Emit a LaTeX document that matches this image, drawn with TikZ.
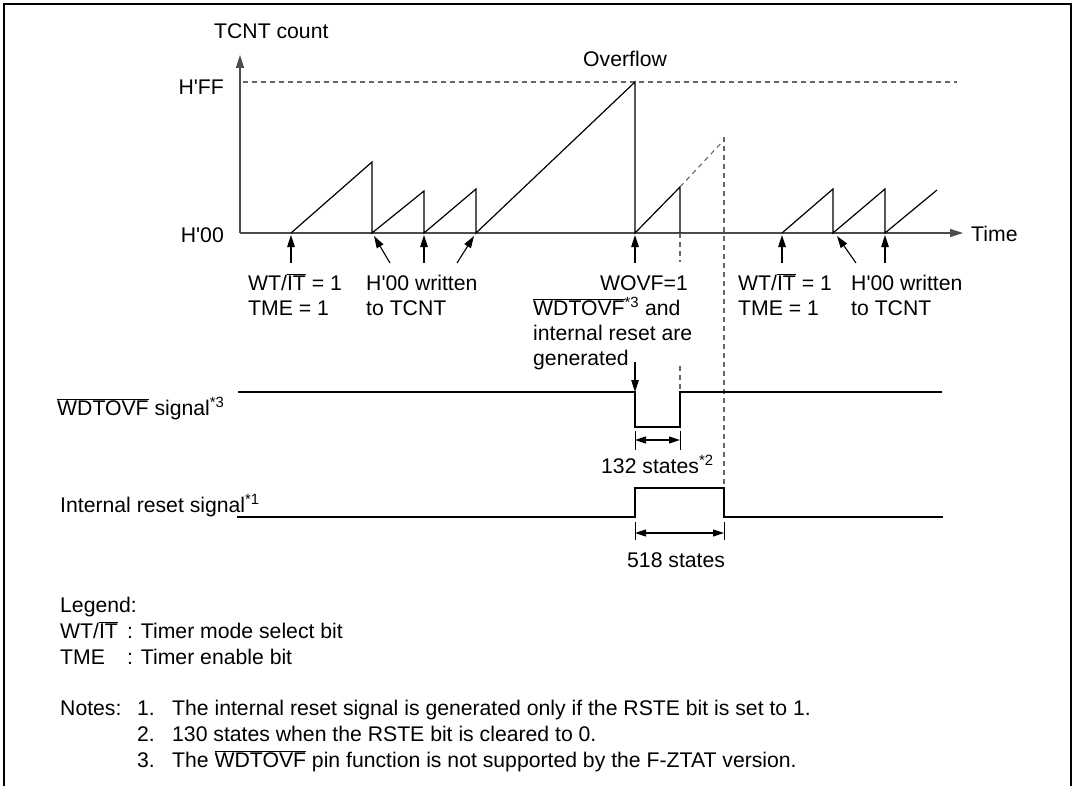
\documentclass[tikz,border=0pt]{standalone}
\usepackage{fontspec}
\newfontfamily\arialfont{Liberation Sans}
\usetikzlibrary{arrows.meta, positioning}
\newcommand{\ovl}[1]{$\overline{\hbox{#1}}$}

\begin{document}
\begin{tikzpicture}[x=1pt, y=-1pt,
  lbl/.style={inner sep=0pt, anchor=base west, font=\arialfont\fontsize{21.2}{25}\selectfont},
  wave/.style={line width=1.2pt},
  axis/.style={line width=1.4pt, draw=black!70, -{Triangle[length=13pt, width=8pt]}},
  arr/.style={line width=1.1pt, -{Triangle[length=12pt, width=7.5pt]}},
  dim/.style={line width=1.1pt, {Triangle[length=11pt, width=7pt]}-{Triangle[length=11pt, width=7pt]}},
  guide/.style={line width=1.1pt, draw=black!60, dash pattern=on 5pt off 4pt}
]
\useasboundingbox (0,0) rectangle (1075,786);
\draw[line width=2.6pt] (4,800) -- (4,4) -- (1071,4) -- (1071,800);

\coordinate (o) at (240,233);
\coordinate (ymax) at (240,55);
\coordinate (tmax) at (963,233);
\coordinate (ff0) at (243,82);
\coordinate (ff1) at (957,82);
\coordinate (ovf) at (635,82);
\coordinate (ovf0) at (635,233);
\coordinate (cut) at (680,187);
\coordinate (cut0) at (680,233);
\coordinate (rst) at (724,137);

\draw[axis] (o) -- (ymax);
\draw[axis] (o) -- (tmax);
\draw[guide] (ff0) -- (ff1);

\node[lbl] (tcnt) at (214,39) {TCNT count};
\node[lbl] (ovflbl) at (583,67) {Overflow};
\node[lbl, anchor=base east] (hff) at (224,95) {H'FF};
\node[lbl, anchor=base east] (h00) at (224,243) {H'00};
\node[lbl] (time) at (971,241) {Time};

\draw[wave] (291,233) -- (372,162) -- (372,233) -- (424,191) -- (424,233)
  -- (476,189) -- (476,233) -- (ovf) -- (ovf0) -- (cut) -- (cut0);
\draw[wave] (782,233) -- (833,189) -- (833,233) -- (885,189) -- (885,233) -- (937,190);
\draw[guide] (cut) -- (724,140);
\draw[guide] (rst) -- (724,488);
\draw[guide] (cut0) -- (680,262);
\draw[guide] (680,366) -- (680,392);

\draw[arr] (291,263) -- (291,235);
\draw[arr] (390,263) -- (374,236);
\draw[arr] (424,263) -- (424,235);
\draw[arr] (457,263) -- (474,236);
\draw[arr] (635,263) -- (635,235);
\draw[arr] (782,263) -- (782,235);
\draw[arr] (856,263) -- (837,236);
\draw[arr] (885,263) -- (885,235);

\node[lbl] (wt1) at (248,290) {WT/\ovl{IT} = 1};
\node[lbl] (tme1) at (248,315) {TME = 1};
\node[lbl] (wr1) at (366,290) {H'00 written};
\node[lbl] (to1) at (366,315) {to TCNT};
\node[lbl, anchor=base east] (wovf) at (688,290) {WOVF=1};
\node[lbl] (gen1) at (533,315) {\ovl{WDTOVF}\textsuperscript{*3} and};
\node[lbl] (gen2) at (533,340) {internal reset are};
\node[lbl] (gen3) at (533,365) {generated};
\node[lbl] (wt2) at (738,290) {WT/\ovl{IT} = 1};
\node[lbl] (tme2) at (738,315) {TME = 1};
\node[lbl] (wr2) at (851,290) {H'00 written};
\node[lbl] (to2) at (851,315) {to TCNT};

\draw[arr] (635,362) -- (635,392);
\node[lbl] (wdt) at (57,415) {\ovl{WDTOVF} signal\textsuperscript{*3}};
\draw[wave] (238,392) -- (635,392) -- (635,427) -- (680,427) -- (680,392) -- (942,392);
\draw[line width=1pt] (635,431) -- (635,450) (680,431) -- (680,450);
\draw[dim] (635,440) -- (680,440);
\node[lbl] (s132) at (601,473) {132 states\textsuperscript{*2}};

\node[lbl] (irs) at (60,512) {Internal reset signal\textsuperscript{*1}};
\draw[wave] (237,517) -- (635,517) -- (635,488) -- (724,488) -- (724,517) -- (943,517);
\draw[line width=1pt] (635,522) -- (635,540) (724,522) -- (724,540);
\draw[dim] (635,533) -- (724,533);
\node[lbl] (s518) at (627,567) {518 states};

\node[lbl] (leg) at (60,612) {Legend:};
\node[lbl] (legwt) at (60,638) {WT/\ovl{IT}};
\node[lbl] (legwtd) at (127,638) {: Timer mode select bit};
\node[lbl] (legtme) at (60,664) {TME};
\node[lbl] (legtmed) at (127,664) {: Timer enable bit};

\node[lbl] (notes) at (60,715) {Notes:};
\node[lbl] (n1) at (137,715) {1.};
\node[lbl] (n1t) at (172,715) {The internal reset signal is generated only if the RSTE bit is set to 1.};
\node[lbl] (n2) at (137,741) {2.};
\node[lbl] (n2t) at (172,741) {130 states when the RSTE bit is cleared to 0.};
\node[lbl] (n3) at (137,767) {3.};
\node[lbl] (n3t) at (172,767) {The \ovl{WDTOVF} pin function is not supported by the F-ZTAT version.};
\end{tikzpicture}
\end{document}
